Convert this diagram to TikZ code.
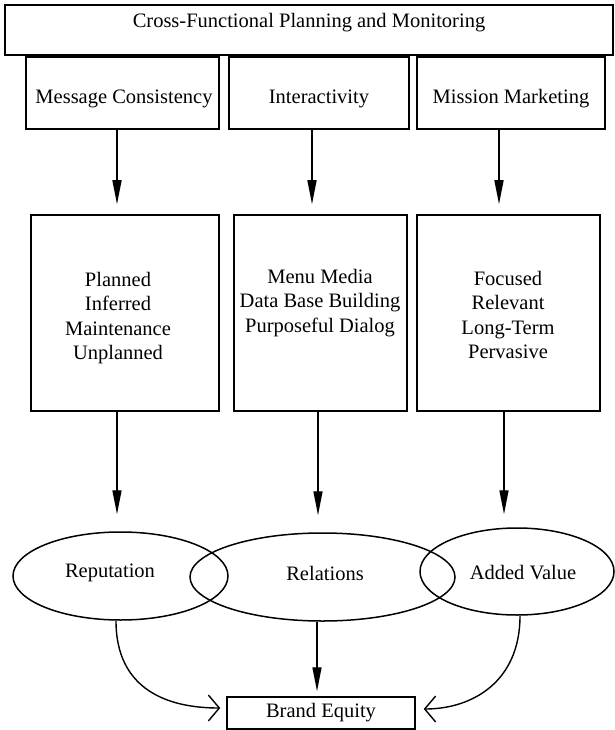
\documentclass[tikz,border=0pt]{standalone}
\usepackage{fontspec}
\setmainfont{Liberation Serif}
\usetikzlibrary{arrows.meta,shapes.geometric}
\begin{document}
\begin{tikzpicture}[x=1pt,y=-1pt,
  txt/.style={inner sep=0pt, align=center, font=\fontsize{20.5}{24.5}\selectfont},
  boxst/.style={draw, line width=1.5pt, rectangle, inner sep=0pt},
  ellst/.style={draw, line width=1.5pt, ellipse, inner sep=0pt},
  arr/.style={line width=1.4pt, -{Triangle[length=24pt,width=9pt]}},
  oarr/.style={line width=1.4pt, -{Straight Barb[length=11pt,width=26pt,line width=1.4pt]}}
]
\useasboundingbox[fill=white] (0,0) rectangle (615,730);

% top banner
\node[boxst, minimum width=608pt, minimum height=50pt] (top) at (309,30) {};
\node[txt] (toptxt) at (309,23) {Cross-Functional Planning and Monitoring};

% first row boxes
\node[boxst, minimum width=193pt, minimum height=72pt] (mc) at (122.5,93) {};
\node[boxst, minimum width=180pt, minimum height=72pt] (ia) at (319,93) {};
\node[boxst, minimum width=188pt, minimum height=72pt] (mm) at (511,93) {};
\node[txt] (mct) at (124,99) {Message Consistency};
\node[txt] (iat) at (319,99) {Interactivity};
\node[txt] (mmt) at (511,99) {Mission Marketing};

% second row boxes
\node[boxst, minimum width=188pt, minimum height=196pt] (lb) at (125,313) {};
\node[boxst, minimum width=173pt, minimum height=196pt] (mb) at (320.5,313) {};
\node[boxst, minimum width=183pt, minimum height=196pt] (rb) at (508.5,313) {};
\node[txt] (lbt) at (118,318) {Planned\\Inferred\\Maintenance\\Unplanned};
\node[txt] (mbt) at (320,303) {Menu Media\\Data Base Building\\Purposeful Dialog};
\node[txt] (rbt) at (508,315) {Focused\\Relevant\\Long-Term\\Pervasive};

% ellipses
\node[ellst, minimum width=215pt, minimum height=88pt] (rep) at (120.5,576) {};
\node[ellst, minimum width=265pt, minimum height=88pt] (rel) at (322.5,577) {};
\node[ellst, minimum width=194pt, minimum height=87pt] (av) at (517,571.5) {};
\node[txt] (rept) at (110,573) {Reputation};
\node[txt] (relt) at (325,573) {Relations};
\node[txt] (avt) at (523,573) {Added Value};

% brand equity
\node[boxst, minimum width=188pt, minimum height=32pt] (be) at (321,713) {};
\node[txt] (bet) at (321,713) {Brand Equity};

% arrows row 1 -> row 2
\draw[arr, shorten >=10pt] ([xshift=-5.5pt]mc.south) -- ([xshift=-8pt]lb.north);
\draw[arr, shorten >=10pt] ([xshift=-7pt]ia.south) -- ([xshift=-8.5pt]mb.north);
\draw[arr, shorten >=10pt] ([xshift=-12pt]mm.south) -- ([xshift=-9.5pt]rb.north);

% arrows row 2 -> ellipses
\draw[arr, shorten >=17pt] ([xshift=-8pt]lb.south) -- ([xshift=-3.5pt]rep.north);
\draw[arr, shorten >=17pt] ([xshift=-2.5pt]mb.south) -- ([xshift=-4.5pt]rel.north);
\draw[arr, shorten >=13pt] ([xshift=-4.5pt]rb.south) -- ([xshift=-13pt]av.north);

% ellipses -> brand equity
\draw[arr, shorten >=5pt] ([xshift=-5.5pt]rel.south) -- ([xshift=-4pt]be.north);
\draw[oarr] ([xshift=-4.5pt]rep.south) .. controls (116,690) and (168,708) .. ([xshift=-6pt,yshift=5pt]be.west);
\draw[oarr] ([xshift=3pt]av.south) .. controls (520,682) and (472,709) .. ([xshift=8pt,yshift=4pt]be.east);
\end{tikzpicture}
\end{document}
